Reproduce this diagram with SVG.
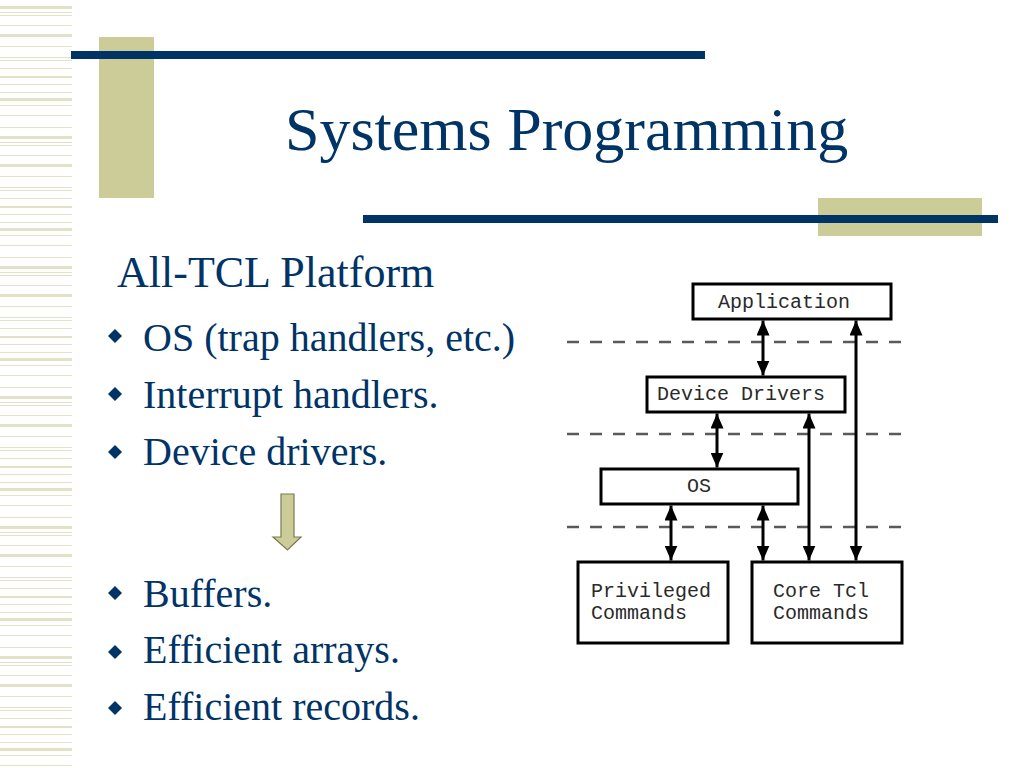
<svg xmlns="http://www.w3.org/2000/svg" width="1024" height="768" viewBox="0 0 1024 768">
<defs>
<style>
.title{font-family:"Liberation Serif","Times New Roman",serif;fill:#003366}
.mono{font-family:"Liberation Mono","Courier New",monospace;font-size:20px;fill:#2a2a2a}
.box{fill:#fff;stroke:#000;stroke-width:3}
.dash{stroke:#5a5a5a;stroke-width:2.5;stroke-dasharray:12 11;fill:none}
.conn{stroke:#000;stroke-width:3;fill:none;marker-start:url(#ah);marker-end:url(#ah)}
.bul{fill:#003366}
</style>
<marker id="ah" markerUnits="userSpaceOnUse" markerWidth="15" markerHeight="13" refX="15" refY="6.5" orient="auto-start-reverse">
<path d="M0,0 L15,6.5 L0,13 z" fill="#000"/>
</marker>
<pattern id="stripes" patternUnits="userSpaceOnUse" width="72" height="130">
<g fill="#e2e2c8">
<rect x="0" y="6" width="72" height="3"/>
<rect x="0" y="12" width="72" height="1"/>
<rect x="0" y="15" width="72" height="1"/>
<rect x="0" y="25" width="72" height="1"/>
<rect x="0" y="34" width="72" height="3"/>
<rect x="0" y="46" width="72" height="1"/>
<rect x="0" y="57" width="72" height="1"/>
<rect x="0" y="60" width="72" height="1"/>
<rect x="0" y="68" width="72" height="1"/>
<rect x="0" y="76" width="72" height="2"/>
<rect x="0" y="84" width="72" height="1"/>
<rect x="0" y="92" width="72" height="1"/>
<rect x="0" y="98" width="72" height="3"/>
<rect x="0" y="105" width="72" height="1"/>
<rect x="0" y="115" width="72" height="1"/>
<rect x="0" y="127" width="72" height="1"/>
</g>
</pattern>
</defs>
<rect width="1024" height="768" fill="#fff"/>
<rect x="0" y="0" width="72" height="768" fill="url(#stripes)"/>
<g id="decor">
<rect x="99" y="37" width="55" height="161" fill="#cccc99"/>
<rect x="71" y="51" width="634" height="8" fill="#003366"/>
<rect x="818" y="198" width="164" height="38" fill="#cccc99"/>
<rect x="363" y="215" width="635" height="8" fill="#003366"/>
</g>
<text class="title" x="285" y="150" font-size="62">Systems Programming</text>
<text class="title" x="117" y="287" font-size="44">All-TCL Platform</text>
<g id="bullets">
<path class="bul" d="M115,329 l7,7 l-7,7 l-7,-7 z"/>
<path class="bul" d="M115,387 l7,7 l-7,7 l-7,-7 z"/>
<path class="bul" d="M115,445 l7,7 l-7,7 l-7,-7 z"/>
<path class="bul" d="M115,586 l7,7 l-7,7 l-7,-7 z"/>
<path class="bul" d="M115,645 l7,7 l-7,7 l-7,-7 z"/>
<path class="bul" d="M115,701 l7,7 l-7,7 l-7,-7 z"/>
<text class="title" font-size="40" x="143" y="351">OS (trap handlers, etc.)</text>
<text class="title" font-size="40" x="143" y="408">Interrupt handlers.</text>
<text class="title" font-size="40" x="143" y="465">Device drivers.</text>
<text class="title" font-size="40" x="143" y="607">Buffers.</text>
<text class="title" font-size="40" x="143" y="663">Efficient arrays.</text>
<text class="title" font-size="40" x="143" y="720">Efficient records.</text>
</g>
<path id="down-arrow" d="M281,494 L294,494 L294,537 L301,537 L287.5,550 L273,537 L281,537 Z" fill="#cccc99" stroke="#7a7a50" stroke-width="1.2"/>
<g id="layers">
<line class="dash" x1="567" y1="342" x2="905" y2="342"/>
<line class="dash" x1="567" y1="434" x2="905" y2="434"/>
<line class="dash" x1="567" y1="527" x2="905" y2="527"/>
</g>
<g id="node-application">
<rect class="box" x="693" y="284" width="198" height="35"/>
<text class="mono" x="718" y="308">Application</text>
</g>
<g id="node-device-drivers">
<rect class="box" x="647" y="377" width="198" height="35"/>
<text class="mono" x="657" y="400">Device Drivers</text>
</g>
<g id="node-os">
<rect class="box" x="601" y="469" width="197" height="35"/>
<text class="mono" x="687" y="492">OS</text>
</g>
<g id="node-privileged">
<rect class="box" x="578" y="562" width="150" height="81"/>
<text class="mono" x="591" y="597">Privileged</text>
<text class="mono" x="591" y="619">Commands</text>
</g>
<g id="node-core">
<rect class="box" x="752" y="562" width="150" height="81"/>
<text class="mono" x="773" y="597">Core Tcl</text>
<text class="mono" x="773" y="619">Commands</text>
</g>
<g id="connectors">
<line class="conn" x1="763" y1="320.5" x2="763" y2="375.5"/>
<line class="conn" x1="856" y1="320.5" x2="856" y2="560.5"/>
<line class="conn" x1="717" y1="413.5" x2="717" y2="467.5"/>
<line class="conn" x1="809" y1="413.5" x2="809" y2="560.5"/>
<line class="conn" x1="671" y1="505.5" x2="671" y2="560.5"/>
<line class="conn" x1="763" y1="505.5" x2="763" y2="560.5"/>
</g>
</svg>
